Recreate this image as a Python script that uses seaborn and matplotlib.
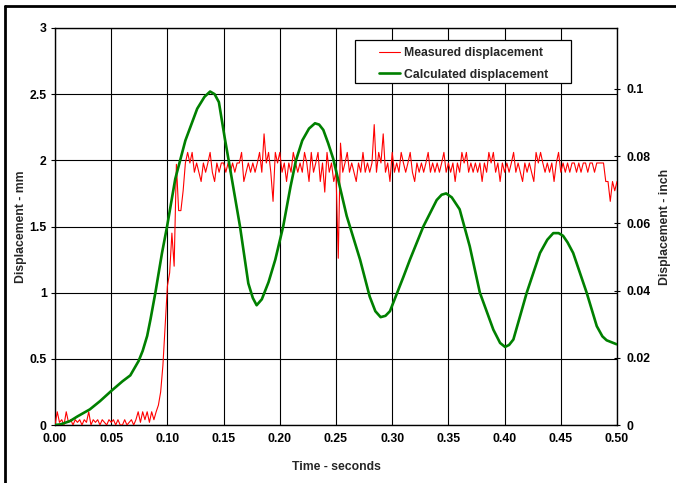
import matplotlib

matplotlib.use("Agg")
import matplotlib.pyplot as plt
import numpy as np
import pandas as pd
import seaborn as sns
from matplotlib.lines import Line2D
from matplotlib.patches import Rectangle

# measured displacement (mm), sampled every 2 ms from t = 0
SAMPLE_STEP = 0.002
measured_mm = [
    0.00, 0.10, 0.02, 0.04, 0.00, 0.10, 0.02, 0.04, 0.00, 0.04,
    0.02, 0.04, 0.00, 0.04, 0.02, 0.10, 0.00, 0.04, 0.02, 0.04,
    0.00, 0.04, 0.02, 0.00, 0.04, 0.02, 0.04, 0.00, 0.04, 0.00,
    0.00, 0.04, 0.00, 0.02, 0.04, 0.00, 0.04, 0.10, 0.02, 0.10,
    0.04, 0.10, 0.02, 0.10, 0.04, 0.10, 0.15, 0.25, 0.45, 0.75,
    1.05, 1.15, 1.45, 1.20, 1.97, 1.62, 1.62, 1.77, 1.98,
    2.06, 1.98, 2.06, 1.91, 1.98, 1.91, 1.84, 1.98, 1.91, 1.98,
    2.06, 1.91, 1.84, 1.98, 1.91, 1.98, 1.98, 1.91, 1.98, 1.91,
    1.98, 1.91, 1.98, 1.98, 2.06, 1.84, 1.91, 1.98, 1.91, 1.98,
    1.91, 1.98, 2.06, 1.91, 2.20, 1.98, 2.06, 1.91, 1.69, 2.06,
    1.98, 2.06, 1.91, 1.98, 1.84, 1.98, 1.91, 2.06, 1.98, 1.91,
    1.98, 1.91, 2.06, 1.98, 1.84, 2.06, 1.91, 1.98, 2.06, 1.84,
    1.98, 1.76, 2.06, 1.91, 1.98, 1.84, 1.91, 1.26, 2.13, 1.91,
    1.98, 2.06, 1.91, 1.98, 1.91, 1.84, 1.98, 1.91, 2.06, 1.91,
    1.98, 1.91, 1.98, 2.27, 1.91, 2.06, 1.98, 2.20, 1.91, 1.98,
    1.84, 2.06, 1.91, 1.98, 1.91, 2.06, 1.98, 1.91, 1.98, 2.06,
    1.91, 1.84, 1.98, 1.91, 1.98, 1.91, 1.98, 2.06, 1.91, 1.98,
    1.91, 1.98, 1.91, 1.98, 2.06, 1.91, 1.98, 1.91, 1.98, 1.84,
    1.98, 1.91, 2.06, 1.98, 2.06, 1.91, 1.98, 1.91, 1.98, 1.91,
    1.98, 1.84, 1.98, 1.91, 2.06, 1.98, 2.06, 1.91, 1.98, 1.84,
    1.98, 1.91, 1.98, 1.91, 1.98, 2.06, 1.91, 1.98, 1.91, 1.84,
    1.98, 1.91, 1.98, 1.91, 1.84, 2.06, 1.98, 2.06, 1.98, 1.91,
    1.98, 1.91, 1.98, 1.84, 1.98, 2.06, 1.91, 1.98, 1.91, 1.98,
    1.91, 1.98, 1.98, 1.91, 1.98, 1.91, 1.98, 1.98, 1.91, 1.98,
    1.98, 1.91, 1.98, 1.98, 1.98,
    1.98, 1.84, 1.84, 1.69, 1.84, 1.77, 1.84,
]

# calculated displacement (mm)
calc_time = [
    0.0, 0.005, 0.0134, 0.02, 0.031, 0.04, 0.05, 0.06, 0.067, 0.0744,
    0.078, 0.082, 0.085, 0.0893, 0.0952, 0.0997, 0.107, 0.116, 0.1265, 0.133,
    0.138, 0.142, 0.1458, 0.151, 0.1545, 0.1646, 0.172, 0.176, 0.1794, 0.184,
    0.19, 0.196, 0.203, 0.2095, 0.2144, 0.22, 0.226, 0.2313, 0.235, 0.2387,
    0.243, 0.2476, 0.2595, 0.2714, 0.28, 0.285, 0.2897, 0.294, 0.298, 0.31,
    0.3158, 0.3277, 0.3396, 0.344, 0.348, 0.353, 0.36, 0.369, 0.378, 0.39,
    0.396, 0.4004, 0.404, 0.4078, 0.413, 0.4197, 0.4315, 0.438, 0.4433, 0.448,
    0.452, 0.456, 0.461, 0.473, 0.482, 0.487, 0.4908, 0.4997,
]
calc_mm = [
    0.0, 0.005, 0.03, 0.065, 0.118, 0.18, 0.257, 0.33, 0.375, 0.484,
    0.56, 0.673, 0.80, 1.0, 1.30, 1.50, 1.86, 2.15, 2.39, 2.48,
    2.52, 2.50, 2.44, 2.17, 2.0, 1.50, 1.07, 0.96, 0.905, 0.95,
    1.08, 1.25, 1.50, 1.80, 2.0, 2.15, 2.24, 2.28, 2.27, 2.23,
    2.13, 2.01, 1.58, 1.25, 0.97, 0.86, 0.815, 0.825, 0.86, 1.12,
    1.25, 1.50, 1.70, 1.74, 1.75, 1.72, 1.63, 1.35, 1.0, 0.72,
    0.62, 0.59, 0.605, 0.646, 0.80, 1.0, 1.30, 1.40, 1.45, 1.45,
    1.43, 1.38, 1.30, 1.0, 0.747, 0.67, 0.64, 0.61,
]

x_ticks = [0.00, 0.05, 0.10, 0.15, 0.20, 0.25, 0.30, 0.35, 0.40, 0.45, 0.50]
mm_ticks = [0, 0.5, 1, 1.5, 2, 2.5, 3]
mm_tick_labels = ["0", "0.5", "1", "1.5", "2", "2.5", "3"]
inch_ticks = [0, 0.02, 0.04, 0.06, 0.08, 0.1]
inch_tick_labels = ["0", "0.02", "0.04", "0.06", "0.08", "0.1"]

FONT_SIZE = 8.8

sns.set_style("white")
plt.rcParams["font.family"] = ["Liberation Sans", "DejaVu Sans"]
plt.rcParams["font.weight"] = "bold"

measured_df = pd.DataFrame({
    "time": np.arange(len(measured_mm)) * SAMPLE_STEP,
    "disp": measured_mm,
})
calc_df = pd.DataFrame({"time": calc_time, "disp": calc_mm})

fig = plt.figure(figsize=(6.76, 4.83), dpi=100)
ax = fig.add_axes([55 / 676, 58 / 483, 562 / 676, 397 / 483])

sns.lineplot(data=measured_df, x="time", y="disp", estimator=None,
             color="#ff0000", linewidth=0.8, ax=ax, zorder=3)
sns.lineplot(data=calc_df, x="time", y="disp", estimator=None,
             color="#008000", linewidth=1.9, ax=ax, zorder=4)

ax.set_xlim(0, 0.5)
ax.set_ylim(0, 3)
ax.set_xticks(x_ticks)
ax.set_xticklabels([f"{t:.2f}" for t in x_ticks])
ax.set_yticks(mm_ticks)
ax.set_yticklabels(mm_tick_labels)
ax.grid(True, color="black", linewidth=0.8)
ax.set_axisbelow(True)
for spine in ax.spines.values():
    spine.set_color("black")
    spine.set_linewidth(1.0)
ax.tick_params(axis="both", direction="out", length=3, width=0.8,
               labelsize=FONT_SIZE, colors="black", pad=3)
ax.set_xlabel("Time - seconds", fontsize=FONT_SIZE, fontweight="bold", labelpad=11)
ax.set_ylabel("Displacement - mm", fontsize=FONT_SIZE, fontweight="bold", labelpad=2)

ax2 = ax.twinx()
ax2.set_ylim(0, 3 / 25.4)
ax2.set_yticks(inch_ticks)
ax2.set_yticklabels(inch_tick_labels)
ax2.tick_params(axis="y", direction="inout", length=5, width=0.8,
                labelsize=FONT_SIZE, colors="black", pad=4)
for spine in ax2.spines.values():
    spine.set_visible(False)
ax2.set_ylabel("Displacement - inch", fontsize=FONT_SIZE, fontweight="bold", labelpad=6)

# legend: frame drawn separately so the padding matches the original box
ax.add_patch(Rectangle((0.5338, 0.8615), 0.3843, 0.1083, transform=ax.transAxes,
                       facecolor="white", edgecolor="black", linewidth=0.9,
                       zorder=9, clip_on=False))
handles = [
    Line2D([], [], color="#ff0000", linewidth=0.8),
    Line2D([], [], color="#008000", linewidth=1.9),
]
leg = ax.legend(handles, ["Measured displacement", "Calculated displacement"],
                loc="upper left", bbox_to_anchor=(0.577, 0.951),
                frameon=False, borderpad=0, borderaxespad=0,
                prop={"size": FONT_SIZE, "weight": "bold"}, handlelength=1.7,
                labelspacing=0.75, handletextpad=0.35)
leg.set_zorder(10)

# outer frame (clipped at right and bottom, as in the original)
fig.add_artist(Line2D([5 / 676, 5 / 676], [0, 1 - 6 / 483],
                      transform=fig.transFigure, color="black", linewidth=2))
fig.add_artist(Line2D([5 / 676, 1], [1 - 6 / 483, 1 - 6 / 483],
                      transform=fig.transFigure, color="black", linewidth=2))

fig.savefig("out.png", dpi=100)
